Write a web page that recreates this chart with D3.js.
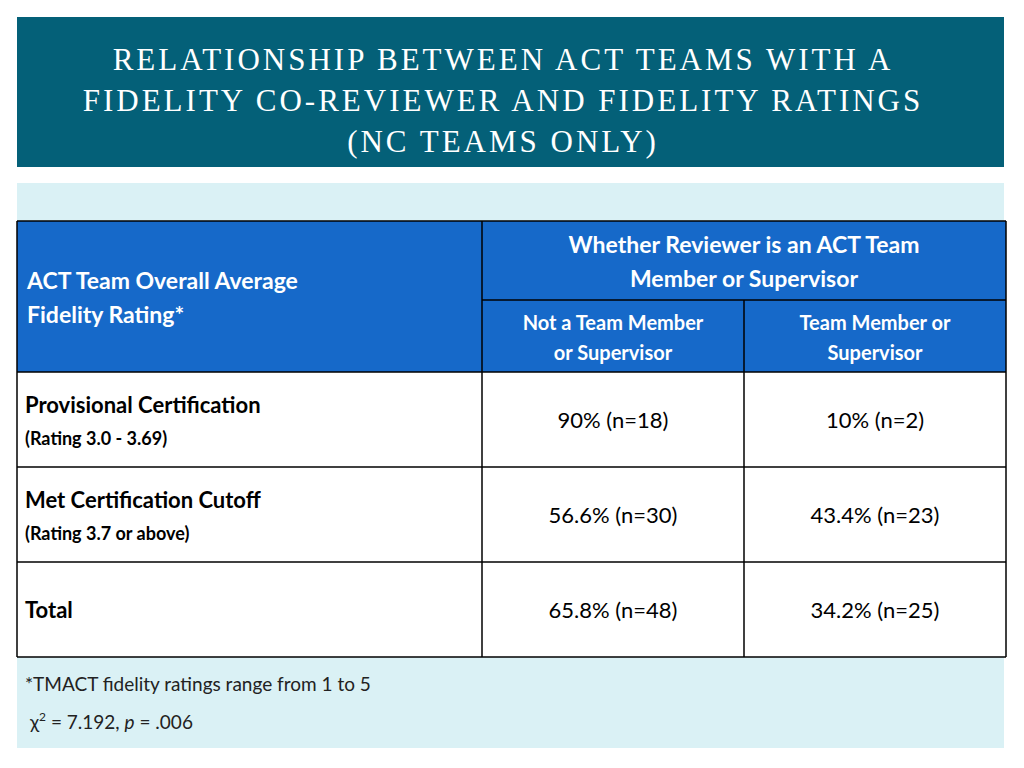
<!DOCTYPE html>
<html><head><meta charset="utf-8">
<script src="https://cdn.jsdelivr.net/npm/d3@7"></script>
<style>body{margin:0;background:#fff}svg{display:block}</style>
</head><body><div id="chart"></div>
<script>
// table data
const titleLines = ["RELATIONSHIP BETWEEN ACT TEAMS WITH A", "FIDELITY CO-REVIEWER AND FIDELITY RATINGS", "(NC TEAMS ONLY)"];
const rowHeads = ["Provisional Certification", "Met Certification Cutoff", "Total"];
const rowSubs = ["(Rating 3.0 - 3.69)", "(Rating 3.7 or above)", ""];
const colHeads = [["Not a Team Member", "or Supervisor"], ["Team Member or", "Supervisor"]];
const notMember = ["90% (n=18)", "56.6% (n=30)", "65.8% (n=48)"];
const member = ["10% (n=2)", "43.4% (n=23)", "34.2% (n=25)"];

const width = 1024, height = 768;
const font = "Lato, 'Open Sans', sans-serif";
const svg = d3.select("#chart").append("svg").attr("width", width).attr("height", height);

// ========== TITLE BANNER ==========
svg.append("rect").attr("x", 17).attr("y", 17).attr("width", 987).attr("height", 150).attr("fill", "#046078");
svg.selectAll(".title").data(titleLines).join("text")
  .attr("x", 503).attr("y", (d, i) => 70 + i * 41)
  .attr("text-anchor", "middle").attr("fill", "#fff")
  .style("font-family", "'Liberation Serif', serif").style("font-size", "31px")
  .style("letter-spacing", "3px").text(d => d);

// light panel
svg.append("rect").attr("x", 17).attr("y", 183).attr("width", 987).attr("height", 565).attr("fill", "#daf1f5");

// ========== SCALES ==========
const colEdges = [17, 482, 744, 1006];
const x = d3.scaleBand().domain([0, 1]).range([482, 1006]);
const y = d3.scaleBand().domain(rowHeads).range([372, 657]);

// header
svg.append("rect").attr("x", 17).attr("y", 221).attr("width", 989).attr("height", 151).attr("fill", "#1669c9");
svg.append("rect").attr("x", 17).attr("y", 372).attr("width", 989).attr("height", 285).attr("fill", "#fff");

const ht = svg.append("g").attr("fill", "#fff").style("font-family", font).style("font-weight", "bold");
ht.append("text").attr("x", 27).attr("y", 289).style("font-size", "23px").text("ACT Team Overall Average");
ht.append("text").attr("x", 27).attr("y", 323).style("font-size", "23px").text("Fidelity Rating*");
ht.append("text").attr("x", 744).attr("y", 253).attr("text-anchor", "middle").style("font-size", "23px").text("Whether Reviewer is an ACT Team");
ht.append("text").attr("x", 744).attr("y", 287).attr("text-anchor", "middle").style("font-size", "23px").text("Member or Supervisor");
colHeads.forEach((lines, i) => lines.forEach((l, j) =>
  ht.append("text").attr("x", x(i) + x.bandwidth() / 2).attr("y", 330 + j * 30)
    .attr("text-anchor", "middle").style("font-size", "20px").text(l)));

// body rows
const body = svg.append("g").style("font-family", font).attr("fill", "#000");
rowHeads.forEach((r, i) => {
  const y0 = y(r), bh = y.bandwidth();
  if (rowSubs[i]) {
    body.append("text").attr("x", 25).attr("y", y0 + 41).style("font-size", "22px").style("font-weight", "bold").text(r);
    body.append("text").attr("x", 25).attr("y", y0 + 73).style("font-size", "18px").style("font-weight", "bold").text(rowSubs[i]);
  } else {
    body.append("text").attr("x", 25).attr("y", y0 + bh / 2 + 8).style("font-size", "22px").style("font-weight", "bold").text(r);
  }
  [notMember[i], member[i]].forEach((v, c) =>
    body.append("text").attr("x", x(c) + x.bandwidth() / 2).attr("y", y0 + bh / 2 + 8)
      .attr("text-anchor", "middle").style("font-size", "22px").text(v));
});

// grid lines
const g = svg.append("g").attr("stroke", "#000").attr("stroke-width", 1.5);
[221, 372, ...rowHeads.map(r => y(r) + y.bandwidth())].forEach(yy =>
  g.append("line").attr("x1", 17).attr("x2", 1006).attr("y1", yy).attr("y2", yy));
g.append("line").attr("x1", 482).attr("x2", 1006).attr("y1", 300).attr("y2", 300);
colEdges.forEach((xx, i) =>
  g.append("line").attr("x1", xx).attr("x2", xx).attr("y1", i === 2 ? 300 : 221).attr("y2", 657));

// footnotes
const fn = svg.append("g").style("font-family", font).style("font-size", "19px").attr("fill", "#222");
fn.append("text").attr("x", 25).attr("y", 691).text("*TMACT fidelity ratings range from 1 to 5");
const chi = fn.append("text").attr("x", 30).attr("y", 729);
chi.append("tspan").text("χ");
chi.append("tspan").attr("dy", -8).style("font-size", "12px").text("2");
chi.append("tspan").attr("dy", 8).text(" = 7.192, ");
chi.append("tspan").style("font-style", "italic").text("p");
chi.append("tspan").text(" = .006");
</script></body></html>
